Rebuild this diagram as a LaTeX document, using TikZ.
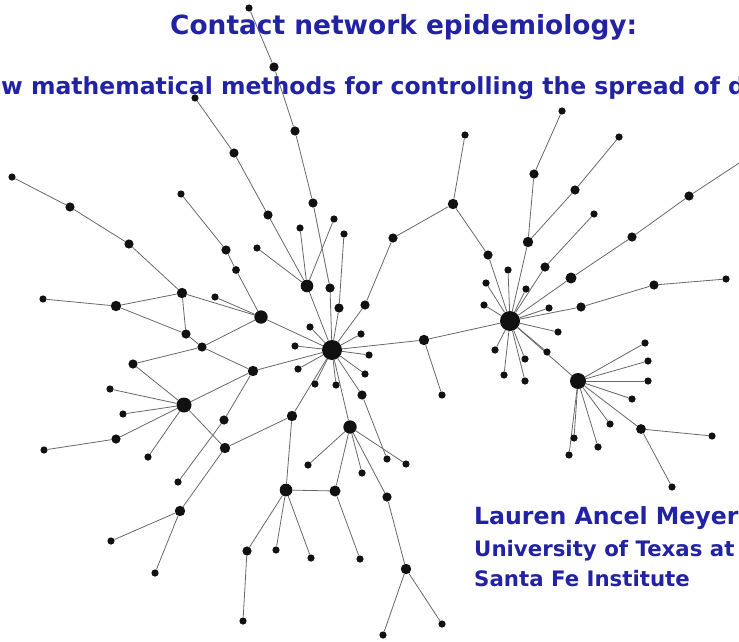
\documentclass[tikz,border=0pt]{standalone}
\usepackage{fontspec}
\newfontfamily\headfont{DejaVu Sans}
\definecolor{headblue}{RGB}{34,34,164}
\definecolor{vertexblack}{RGB}{17,17,17}
\definecolor{linkgray}{RGB}{105,105,105}
\pgfdeclarelayer{edges}
\pgfsetlayers{edges,main}
\tikzset{
  vtx/.style={circle,fill=vertexblack,draw=none,inner sep=0pt,minimum size=#1},
  sm/.style={vtx=7.2pt},
  md/.style={vtx=9.2pt},
  mb/.style={vtx=10.4pt},
  bg/.style={vtx=12.6pt},
  hub/.style={vtx=20pt},
  link/.style={draw=linkgray,line width=0.8pt},
  headline/.style={text=headblue,inner sep=0pt,anchor=base west}
}
\begin{document}
\begin{tikzpicture}[x=1pt,y=-1pt]
\useasboundingbox (0,0) rectangle (739,642);

% ---- vertices, left cluster ----
\node[sm] (n1) at (12,177) {};
\node[md] (n2) at (70,207) {};
\node[md] (n3) at (129,244) {};
\node[mb] (n4) at (182,293) {};
\node[sm] (n5) at (43,299) {};
\node[mb] (n6) at (116,306) {};
\node[md] (n7) at (186,334) {};
\node[md] (n8) at (202,347) {};
\node[md] (n9) at (133,364) {};
\node[vtx=13.4pt] (A) at (261,317) {};
\node[sm] (n10) at (215,297) {};
\node[sm] (n11) at (181,194) {};
\node[md] (n12) at (226,250) {};
\node[vtx=7.8pt] (n13) at (236,270) {};
\node[sm] (n14) at (195,98) {};
\node[md] (n15) at (234,153) {};
\node[md] (n16) at (268,215) {};
\node[bg] (B) at (307,286) {};
\node[sm] (n17) at (300,228) {};
\node[sm] (n18) at (334,219) {};
\node[sm] (n19) at (257,248) {};
\node[sm] (n20) at (249,8) {};
\node[md] (n21) at (274,67) {};
\node[md] (n22) at (295,131) {};
\node[md] (n23) at (313,203) {};
\node[md] (n24) at (330,288) {};
\node[sm] (n25) at (344,234) {};
\node[md] (n26) at (339,308) {};
\node[md] (n27) at (393,238) {};
\node[md] (n28) at (365,305) {};
\node[mb] (n29) at (453,204) {};
\node[sm] (n30) at (465,135) {};

% ---- central hub and its leaves ----
\node[hub] (C) at (332,350) {};
\node[sm] (n31) at (310,327) {};
\node[sm] (n32) at (361,334) {};
\node[sm] (n33) at (295,346) {};
\node[sm] (n34) at (369,355) {};
\node[sm] (n35) at (298,369) {};
\node[sm] (n36) at (365,374) {};
\node[sm] (n37) at (315,384) {};
\node[sm] (n38) at (336,385) {};
\node[md] (n39) at (362,395) {};
\node[mb] (n40) at (424,340) {};
\node[sm] (n41) at (442,395) {};
\node[mb] (n42) at (253,371) {};

% ---- lower-left hub ----
\node[vtx=15pt] (L) at (184,405) {};
\node[sm] (n43) at (110,389) {};
\node[sm] (n44) at (123,414) {};
\node[md] (n45) at (116,439) {};
\node[sm] (n46) at (44,450) {};
\node[sm] (n47) at (148,457) {};
\node[md] (n48) at (224,420) {};
\node[mb] (n49) at (225,448) {};
\node[sm] (n50) at (178,482) {};
\node[mb] (n51) at (180,511) {};
\node[sm] (n52) at (111,541) {};
\node[sm] (n53) at (155,573) {};

% ---- lower branch ----
\node[mb] (n54) at (292,416) {};
\node[vtx=13.4pt] (D) at (350,427) {};
\node[sm] (n55) at (308,465) {};
\node[sm] (n56) at (362,473) {};
\node[sm] (n57) at (387,459) {};
\node[sm] (n58) at (406,464) {};
\node[md] (n59) at (387,497) {};
\node[bg] (n60) at (286,490) {};
\node[vtx=11pt] (n61) at (335,491) {};
\node[md] (n62) at (247,551) {};
\node[sm] (n63) at (276,550) {};
\node[sm] (n64) at (311,558) {};
\node[sm] (n65) at (360,559) {};
\node[sm] (n66) at (243,621) {};
\node[mb] (n67) at (406,569) {};
\node[sm] (n68) at (383,635) {};
\node[sm] (n69) at (442,624) {};

% ---- right hub ----
\node[hub] (R) at (510,321) {};
\node[md] (n70) at (488,255) {};
\node[mb] (n71) at (528,242) {};
\node[md] (n72) at (534,174) {};
\node[sm] (n73) at (562,111) {};
\node[md] (n74) at (575,190) {};
\node[sm] (n75) at (619,137) {};
\node[sm] (n76) at (508,270) {};
\node[md] (n77) at (545,267) {};
\node[sm] (n78) at (594,214) {};
\node[vtx=11pt] (n79) at (571,278) {};
\node[md] (n80) at (632,237) {};
\node[md] (n81) at (689,196) {};
\coordinate (n82) at (762,148);
\node[sm] (n83) at (486,283) {};
\node[sm] (n84) at (526,289) {};
\node[sm] (n85) at (484,305) {};
\node[sm] (n86) at (549,308) {};
\node[md] (n87) at (581,307) {};
\node[md] (n88) at (654,285) {};
\node[sm] (n89) at (726,279) {};
\node[sm] (n90) at (558,332) {};
\node[sm] (n91) at (495,350) {};
\node[sm] (n92) at (525,359) {};
\node[sm] (n93) at (547,352) {};
\node[sm] (n94) at (504,375) {};
\node[sm] (n95) at (525,381) {};

% ---- lower-right hub ----
\node[vtx=16pt] (H) at (578,381) {};
\node[sm] (n96) at (645,343) {};
\node[sm] (n97) at (648,361) {};
\node[sm] (n98) at (648,381) {};
\node[sm] (n99) at (632,399) {};
\node[sm] (n100) at (610,424) {};
\node[vtx=9.8pt] (n101) at (641,429) {};
\node[sm] (n102) at (712,436) {};
\node[sm] (n103) at (672,487) {};
\node[sm] (n104) at (574,438) {};
\node[sm] (n105) at (598,447) {};
\node[sm] (n106) at (569,455) {};

% ---- contacts ----
\begin{pgfonlayer}{edges}
\fill[white] (0,0) rectangle (739,642);
\foreach \a/\b in {n1/n2,n2/n3,n3/n4,n5/n6,n6/n4,n6/n7,n4/n7,n4/A,n10/A,
  n7/n8,n9/n8,n8/A,n8/n42,n11/n12,n12/n13,n13/A,n14/n15,n15/n16,n16/B,
  n17/B,n18/B,n19/B,n20/n21,n21/n22,n22/n23,n23/n24,n24/C,n25/n26,n26/C,
  B/C,A/C,n27/n28,n28/C,n27/n29,n29/n30,n29/n70,n70/R,
  C/n31,C/n32,C/n33,C/n34,C/n35,C/n36,C/n37,C/n38,C/n39,n39/n57,
  C/n40,n40/n41,n40/R,n42/C,
  L/n9,L/n43,L/n44,L/n45,n45/n46,L/n47,L/n42,L/n49,n42/n48,n48/n50,
  n49/n51,n51/n52,n51/n53,n49/n54,n54/C,
  C/D,D/n55,D/n56,D/n58,D/n59,D/n61,n61/n60,n54/n60,n60/n62,n62/n66,
  n60/n63,n60/n64,n61/n65,n59/n67,n67/n68,n67/n69,
  R/n71,n71/n72,n72/n73,n71/n74,n74/n75,R/n76,R/n77,n77/n78,R/n79,
  n79/n80,n80/n81,n81/n82,R/n83,R/n84,R/n85,R/n86,R/n87,n87/n88,n88/n89,
  R/n90,R/n91,R/n92,R/n93,R/H,R/n94,R/n95,
  H/n96,H/n97,H/n98,H/n99,H/n100,H/n101,H/n104,H/n105,H/n106,
  n101/n102,n101/n103}
  \draw[link] (\a) -- (\b);
\end{pgfonlayer}

% ---- headings ----
\node[headline,font=\headfont\bfseries\fontsize{26.4}{30}\selectfont] (title) at (170,35) {Contact network epidemiology:};
\node[headline,font=\headfont\bfseries\fontsize{23.5}{27}\selectfont] (subtitle) at (1,94) {w mathematical methods for controlling the spread of d};
\node[headline,font=\headfont\bfseries\fontsize{23.6}{27}\selectfont] (author) at (474,524) {Lauren Ancel Meyer};
\node[headline,font=\headfont\bfseries\fontsize{21.3}{24}\selectfont] (univ) at (474,556) {University of Texas at};
\node[headline,font=\headfont\bfseries\fontsize{21.3}{24}\selectfont] (santafe) at (474,586) {Santa Fe Institute};
\end{tikzpicture}
\end{document}
